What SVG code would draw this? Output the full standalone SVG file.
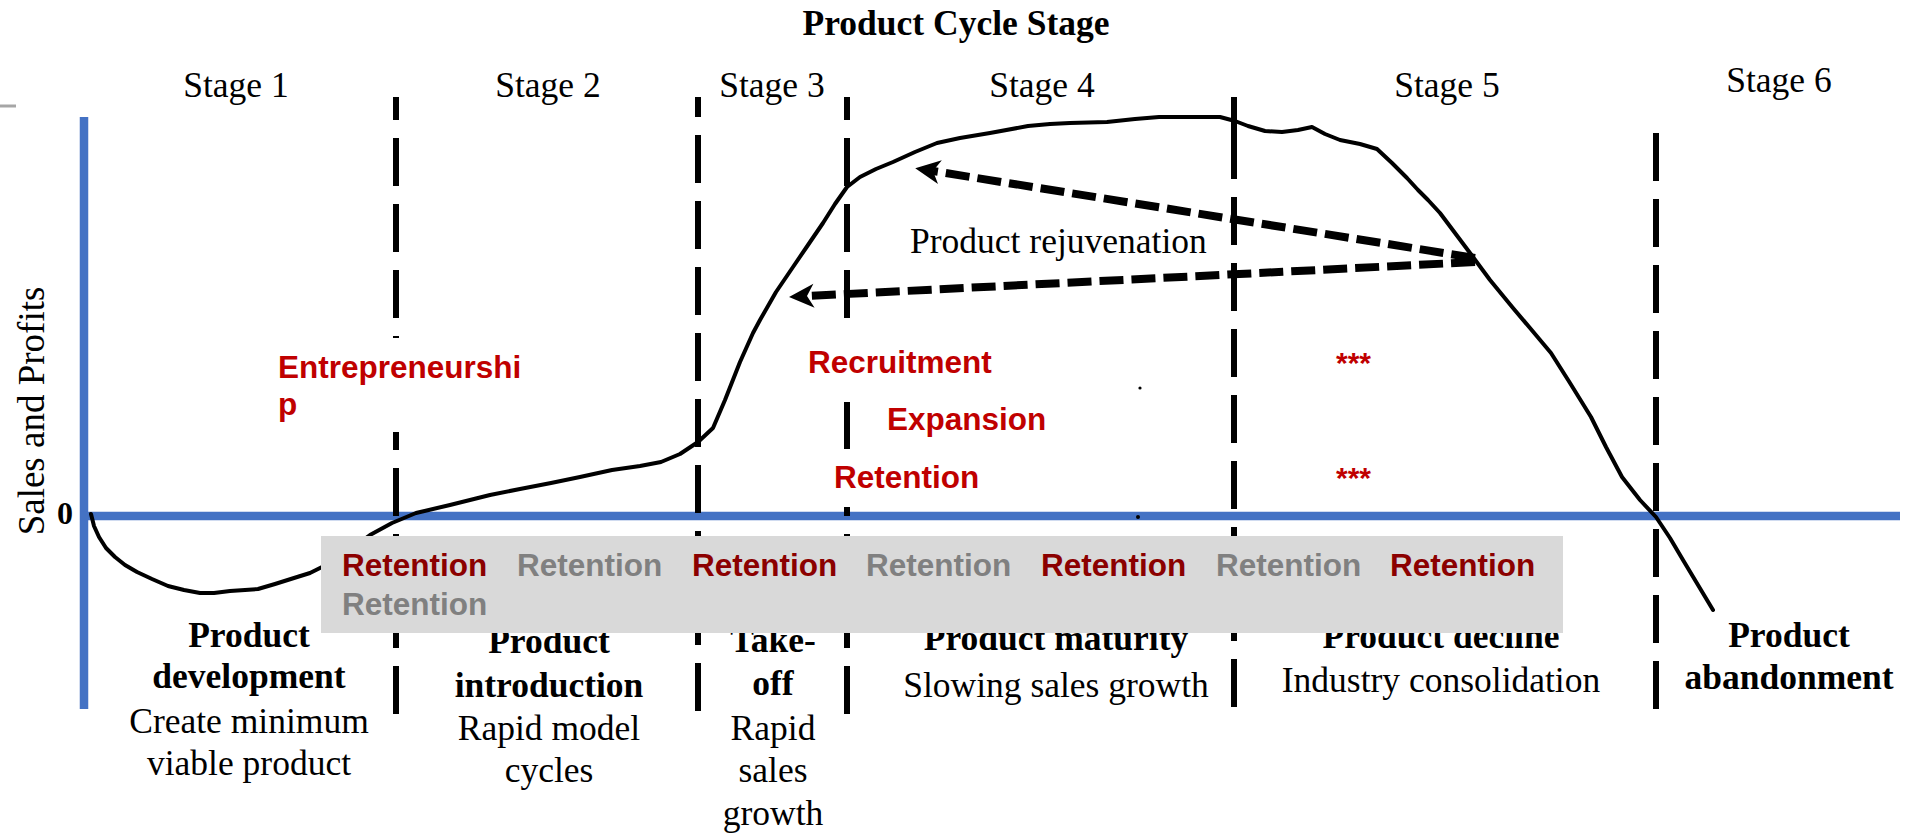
<svg xmlns="http://www.w3.org/2000/svg" width="1908" height="835" viewBox="0 0 1908 835">
<defs>
<style>
.serif{font-family:"Liberation Serif","Times New Roman",serif;font-size:35.5px;fill:#000}
.b{font-weight:bold}
.mid{text-anchor:middle}
.red{font-family:"Liberation Sans",Arial,sans-serif;font-weight:bold;font-size:31.5px;fill:#C00000}
.ret{font-family:"Liberation Sans",Arial,sans-serif;font-weight:bold;font-size:31.5px}
.dk{fill:#8B0000}
.gy{fill:#808080}
.stage-line{stroke:#000;stroke-width:6;stroke-dasharray:48 18;fill:none}
.axis{stroke:#4472C4;stroke-width:8.5;fill:none}
.arrow{stroke:#000;stroke-width:8;stroke-dasharray:24 8;fill:none;marker-end:url(#ah)}
.curve{stroke:#000;stroke-width:4;fill:none;stroke-linejoin:round;stroke-linecap:round}
</style>
<marker id="ah" markerUnits="userSpaceOnUse" markerWidth="32" markerHeight="32" viewBox="-2 -15 32 30" refX="7" refY="0" orient="auto">
<path d="M25,0 L0,-12 L7,0 L0,12 Z" fill="#000"/>
</marker>
</defs>
<rect width="1908" height="835" fill="#fff"/>

<g id="title">
<text class="serif b mid" x="956" y="35">Product Cycle Stage</text>
</g>

<g id="stage-labels">
<text class="serif mid" x="236" y="97">Stage 1</text>
<text class="serif mid" x="548" y="97">Stage 2</text>
<text class="serif mid" x="772" y="97">Stage 3</text>
<text class="serif mid" x="1042" y="97">Stage 4</text>
<text class="serif mid" x="1447" y="97">Stage 5</text>
<text class="serif mid" x="1779" y="92">Stage 6</text>
</g>

<g id="axes">
<line x1="0" y1="106" x2="16" y2="106" stroke="#A6A6A6" stroke-width="3"/>
<line class="axis" x1="84" y1="117" x2="84" y2="709"/>
<line class="axis" x1="80" y1="516" x2="1900" y2="516"/>
<text class="serif" x="0" y="0" transform="translate(44,411) rotate(-90)" text-anchor="middle" style="font-size:37px">Sales and Profits</text>
<text class="serif b" x="65" y="524" text-anchor="middle" style="font-size:32px">0</text>
</g>

<g id="connectors">
<g id="stage-dividers">
<line class="stage-line" x1="396" y1="97" x2="396" y2="715" stroke-dashoffset="25"/>
<line class="stage-line" x1="698" y1="97" x2="698" y2="712" stroke-dashoffset="28"/>
<line class="stage-line" x1="847" y1="97" x2="847" y2="715" stroke-dashoffset="25"/>
<line x1="1234" y1="97" x2="1234" y2="179" stroke="#000" stroke-width="6"/>
<line class="stage-line" x1="1234" y1="197" x2="1234" y2="707"/>
<line class="stage-line" x1="1656" y1="133" x2="1656" y2="709"/>
</g>
<polyline id="sales-curve" class="curve" points="91,514 94,526 99,537 106,548 115,557 125,565 137,572 152,579 168,586 184,590 200,593 214,593 230,591 245,590 258,589 275,584 294,578 310,573 322,567 340,556 355,546 370,535 392,523 416,513 450,505 490,495 520,489 551,483 580,477 612,470 640,466 661,462 680,454 698,442 713,428 725,400 740,362 753,333 760,320 776,292 793,267 808,245 823,223 835,204 847,187 860,177 876,169 893,162 915,152 937,143 960,138 990,133 1028,126 1050,124 1070,123 1107,122 1135,119 1159,117 1220,117 1235,121 1248,126 1265,131 1282,132 1298,130 1312,127 1325,134 1340,140 1360,144 1377,149 1392,163 1407,178 1418,190 1428,200 1440,213 1455,233 1473,257 1490,280 1513,308 1530,328 1551,353 1570,383 1591,417 1606,447 1622,477 1640,500 1656,517 1670,538 1683,560 1698,585 1713,610"/>
<g id="rejuvenation-arrows">
<line class="arrow" x1="1475" y1="258" x2="933" y2="171"/>
<line class="arrow" x1="1475" y1="262" x2="807" y2="296"/>
</g>
</g>

<g id="rejuvenation-label">
<text class="serif" x="910" y="253">Product rejuvenation</text>
</g>

<g id="text-backgrounds" fill="#fff">
<rect x="270" y="338" width="270" height="94"/>
<rect x="800" y="330" width="200" height="65"/>
<rect x="825" y="449" width="165" height="58"/>
</g>

<g id="entrepreneurship">
<text class="red" x="278" y="378">Entrepreneurshi</text>
<text class="red" x="278" y="415">p</text>
</g>
<g id="recruitment"><text class="red" x="808" y="373">Recruitment</text></g>
<g id="expansion"><text class="red" x="887" y="430">Expansion</text></g>
<g id="retention"><text class="red" x="834" y="488">Retention</text></g>
<g id="stars-1"><text class="red" x="1336" y="373" style="font-size:30px">***</text></g>
<g id="stars-2"><text class="red" x="1336" y="488" style="font-size:30px">***</text></g>

<g id="marks" fill="#000">
<circle cx="1140" cy="388" r="1.6"/>
<circle cx="1138" cy="517" r="2"/>
</g>

<g id="stage1-desc">
<text class="serif b mid" x="249" y="647">Product</text>
<text class="serif b mid" x="249" y="688">development</text>
<text class="serif mid" x="249" y="733">Create minimum</text>
<text class="serif mid" x="249" y="775">viable product</text>
</g>
<g id="stage2-desc">
<text class="serif b mid" x="549" y="653">Product</text>
<text class="serif b mid" x="549" y="697">introduction</text>
<text class="serif mid" x="549" y="740">Rapid model</text>
<text class="serif mid" x="549" y="782">cycles</text>
</g>
<g id="stage3-desc">
<text class="serif b mid" x="773" y="652">Take-</text>
<text class="serif b mid" x="773" y="695">off</text>
<text class="serif mid" x="773" y="740">Rapid</text>
<text class="serif mid" x="773" y="782">sales</text>
<text class="serif mid" x="773" y="825">growth</text>
</g>
<g id="stage4-desc">
<text class="serif b mid" x="1056" y="650">Product maturity</text>
<text class="serif mid" x="1056" y="697">Slowing sales growth</text>
</g>
<g id="stage5-desc">
<text class="serif b mid" x="1441" y="648">Product decline</text>
<text class="serif mid" x="1441" y="692">Industry consolidation</text>
</g>
<g id="stage6-desc">
<text class="serif b mid" x="1789" y="647">Product</text>
<text class="serif b mid" x="1789" y="689">abandonment</text>
</g>

<g id="retention-box">
<rect x="321" y="536" width="1242" height="97" fill="#D9D9D9"/>
<text class="ret dk" x="342" y="576">Retention</text>
<text class="ret gy" x="517" y="576">Retention</text>
<text class="ret dk" x="692" y="576">Retention</text>
<text class="ret gy" x="866" y="576">Retention</text>
<text class="ret dk" x="1041" y="576">Retention</text>
<text class="ret gy" x="1216" y="576">Retention</text>
<text class="ret dk" x="1390" y="576">Retention</text>
<text class="ret gy" x="342" y="615">Retention</text>
</g>
</svg>
